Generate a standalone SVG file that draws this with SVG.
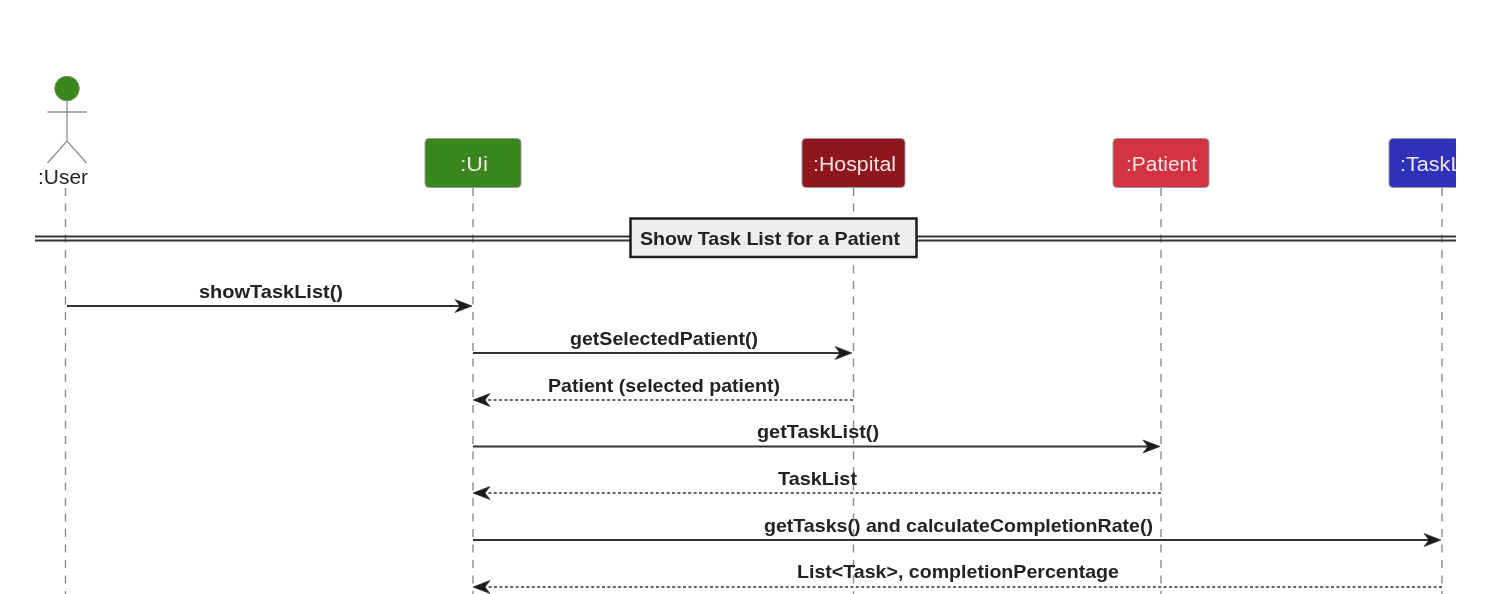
<svg xmlns="http://www.w3.org/2000/svg" width="1506" height="594" viewBox="0 0 1506 594">
<style>
text{font-family:"Liberation Sans",Arial,sans-serif;text-anchor:middle}
.life{stroke:#8c8c8c;stroke-width:1.4;stroke-dasharray:8 7.5;fill:none}
.head{font-size:20px;fill:#f2e4e4}
.box{stroke:#9a9a9a;stroke-width:1}
.msg{font-size:18.4px;font-weight:bold;fill:#222}
.sync{stroke:#333;stroke-width:1.8;fill:none}
.ret{stroke:#333;stroke-width:1.6;stroke-dasharray:3 2.4;fill:none}
.arrow{fill:#1c1c1c;stroke:#1c1c1c;stroke-width:.6}
.div{stroke:#333;stroke-width:2;fill:none}
</style>
<defs>
<clipPath id="page"><rect x="0" y="0" width="1456" height="594"/></clipPath>
<filter id="soft" x="0" y="0" width="100%" height="100%"><feGaussianBlur stdDeviation="0.5"/></filter>
<path id="hr" class="arrow" d="M0 0L-17 -6.500L-12 0L-17 6.500Z"/>
<path id="hl" class="arrow" d="M0 0L17 -6.500L12 0L17 6.500Z"/>
</defs>
<rect width="1506" height="594" fill="#fff"/>
<g filter="url(#soft)">
<g id="lifelines">
<path class="life" d="M65.500 188V594"/>
<path class="life" d="M473 188V594"/>
<path class="life" d="M853.500 188V594"/>
<path class="life" d="M1161 188V594"/>
<path class="life" d="M1442 188V594"/>
</g>
<g id="user">
<circle cx="67" cy="88.500" r="12.300" fill="#38861f" stroke="#6f9a5f" stroke-width="1"/>
<path d="M67 101V141M47.500 112H86.500M47.500 163L67 141L86.500 163" fill="none" stroke="#8f8f8f" stroke-width="1.300"/>
<text x="63" y="184" font-size="20" fill="#222" textLength="50" lengthAdjust="spacingAndGlyphs">:User</text>
</g>
<g id="ui">
<rect class="box" x="425" y="138.500" width="96" height="49" rx="4" fill="#38861f"/>
<text class="head" x="474" y="171" textLength="28" lengthAdjust="spacingAndGlyphs">:Ui</text>
</g>
<g id="hospital">
<rect class="box" x="802" y="138.500" width="103" height="49" rx="4" fill="#8e171b"/>
<text class="head" x="854.500" y="171" textLength="83" lengthAdjust="spacingAndGlyphs">:Hospital</text>
</g>
<g id="patient">
<rect class="box" x="1113" y="138.500" width="96" height="49" rx="4" fill="#d3333f"/>
<text class="head" x="1161.500" y="171" textLength="71" lengthAdjust="spacingAndGlyphs">:Patient</text>
</g>
<g id="tasklist" clip-path="url(#page)">
<rect class="box" x="1389" y="138.500" width="106" height="49" rx="4" fill="#2f33b8"/>
<text class="head" x="1442" y="171" textLength="84" lengthAdjust="spacingAndGlyphs">:TaskList</text>
</g>
<g id="divider">
<path class="div" d="M35 236.500H1456M35 240.500H1456"/>
<rect x="630.500" y="218.500" width="286" height="38.500" fill="#eeeeee" stroke="#1c1c1c" stroke-width="2.500"/>
<text x="770" y="245" font-size="18.400" font-weight="bold" fill="#222" textLength="260" lengthAdjust="spacingAndGlyphs">Show Task List for a Patient</text>
</g>
<g id="connectors">
<path class="sync" d="M67 306H460"/><use href="#hr" x="472" y="306"/>
<path class="sync" d="M473 353H840"/><use href="#hr" x="852" y="353"/>
<path class="ret" d="M853 400H486"/><use href="#hl" x="473" y="400"/>
<path class="sync" d="M473 446.500H1148"/><use href="#hr" x="1160" y="446.500"/>
<path class="ret" d="M1161 493H486"/><use href="#hl" x="473" y="493"/>
<path class="sync" d="M473 540H1429"/><use href="#hr" x="1441" y="540"/>
<path class="ret" d="M1442 587H486"/><use href="#hl" x="473" y="587"/>
</g>
<g id="labels">
<text class="msg" x="271" y="298" textLength="144" lengthAdjust="spacingAndGlyphs">showTaskList()</text>
<text class="msg" x="664" y="345" textLength="188" lengthAdjust="spacingAndGlyphs">getSelectedPatient()</text>
<text class="msg" x="664" y="392" textLength="232" lengthAdjust="spacingAndGlyphs">Patient (selected patient)</text>
<text class="msg" x="818" y="438" textLength="122" lengthAdjust="spacingAndGlyphs">getTaskList()</text>
<text class="msg" x="817.500" y="485" textLength="79" lengthAdjust="spacingAndGlyphs">TaskList</text>
<text class="msg" x="958.500" y="532" textLength="389" lengthAdjust="spacingAndGlyphs">getTasks() and calculateCompletionRate()</text>
<text class="msg" x="958" y="578" textLength="322" lengthAdjust="spacingAndGlyphs">List&lt;Task&gt;, completionPercentage</text>
</g>
</g>
</svg>
